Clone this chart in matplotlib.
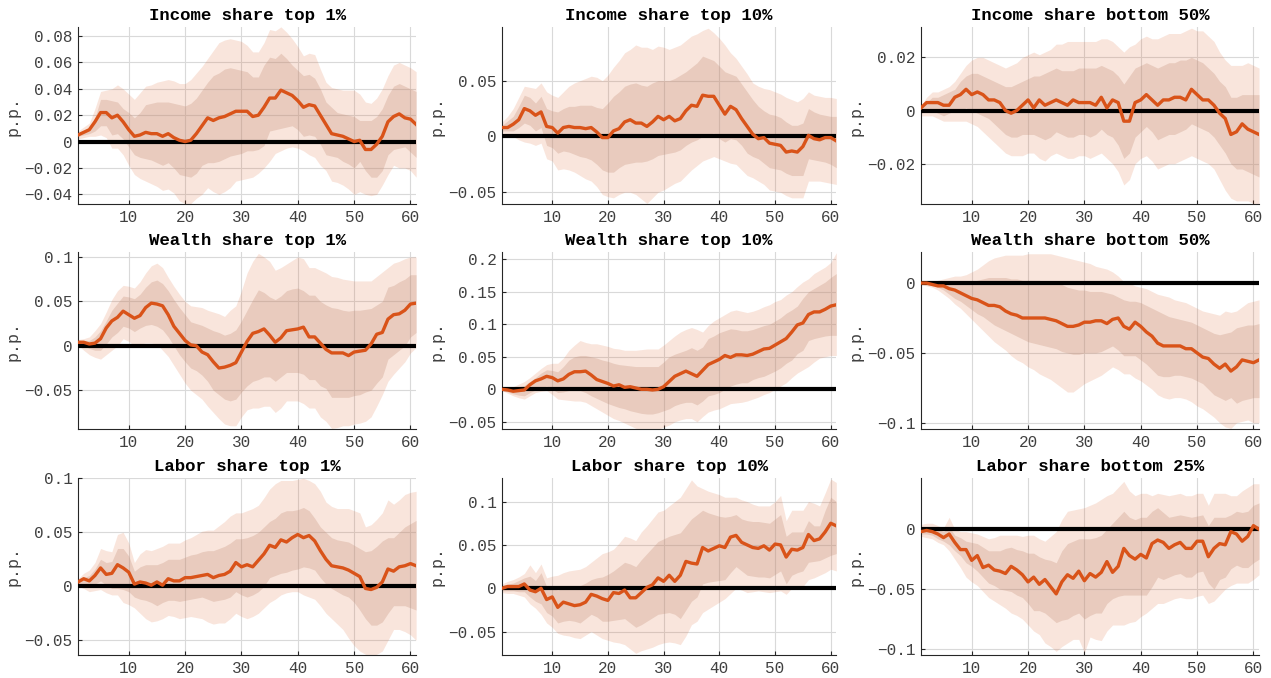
import numpy as np
import matplotlib
matplotlib.use("Agg")
import matplotlib.pyplot as plt
from matplotlib.ticker import MultipleLocator, FuncFormatter

# horizons
h = np.arange(1, 62)

# all values below in thousandths of a p.p.
# --- Income share top 1%
inc1_med = [5, 7, 9, 15, 22, 22, 18, 20, 15, 9,
            4, 5, 7, 6, 6, 4, 6, 3, 1, 0,
            1, 6, 12, 18, 16, 18, 19, 21, 23, 23,
            23, 19, 20, 26, 33, 33, 39, 37, 35, 31,
            26, 28, 27, 20, 13, 6, 5, 4, 2, 0,
            1, -6, -6, -2, 4, 15, 19, 21, 18, 17,
            13]
inc1_hi90 = [8, 11, 14, 25, 38, 39, 40, 43, 40, 36,
             32, 37, 42, 43, 45, 46, 47, 46, 44, 44,
             47, 52, 57, 63, 69, 75, 77, 78, 77, 76,
             73, 68, 68, 75, 85, 84, 87, 83, 78, 72,
             65, 67, 66, 55, 45, 41, 40, 39, 39, 39,
             36, 30, 29, 33, 40, 50, 58, 60, 58, 56,
             53]
inc1_hi68 = [6, 8, 10, 18, 32, 32, 31, 30, 25, 22,
             18, 22, 28, 29, 30, 30, 30, 29, 28, 27,
             29, 33, 39, 45, 50, 52, 55, 56, 55, 54,
             53, 49, 49, 58, 64, 63, 67, 63, 58, 54,
             50, 51, 48, 40, 30, 26, 22, 21, 20, 19,
             16, 16, 16, 19, 25, 35, 42, 44, 42, 40,
             38]
inc1_lo68 = [4, 5, 6, 8, 12, 12, 5, 6, 2, -4,
             -10, -12, -13, -14, -16, -18, -16, -20, -25, -26,
             -27, -24, -18, -16, -16, -15, -13, -11, -10, -9,
             -7, -7, -6, -3, 8, 9, 10, 11, 12, 9,
             4, 5, 4, -2, -10, -11, -12, -15, -17, -20,
             -15, -22, -27, -27, -22, -10, -6, -5, -4, -8,
             -12]
inc1_lo90 = [2, 3, 4, 4, 5, 3, -5, -5, -10, -18,
             -25, -28, -30, -32, -34, -37, -36, -39, -45, -47,
             -47, -43, -40, -35, -38, -40, -38, -35, -30, -29,
             -28, -27, -24, -20, -15, -9, -7, -5, -4, -5,
             -7, -10, -12, -18, -22, -30, -31, -33, -36, -40,
             -38, -40, -41, -40, -33, -25, -18, -20, -20, -22,
             -27]

# --- Income share top 10%
inc10_med = [8, 8, 11, 15, 25, 23, 19, 22, 9, 8,
             3, 8, 9, 8, 8, 7, 8, 4, -1, -1,
             5, 7, 13, 15, 12, 12, 9, 13, 18, 15,
             18, 14, 16, 23, 28, 27, 37, 36, 36, 28,
             20, 27, 24, 16, 9, 2, -2, -1, -6, -7,
             -8, -14, -13, -14, -9, 1, -2, -3, -1, -1,
             -4]
inc10_hi90 = [13, 18, 25, 35, 45, 44, 43, 48, 40, 37,
              35, 40, 45, 48, 50, 52, 54, 53, 50, 55,
              62, 68, 75, 78, 82, 80, 80, 78, 81, 80,
              78, 80, 82, 86, 90, 92, 95, 97, 93, 88,
              82, 75, 70, 63, 56, 48, 45, 43, 42, 40,
              38, 35, 33, 31, 34, 40, 37, 36, 35, 35,
              34]
inc10_hi68 = [10, 14, 18, 27, 37, 35, 30, 36, 25, 23,
              22, 25, 27, 27, 28, 28, 28, 26, 25, 30,
              36, 40, 45, 47, 48, 46, 45, 48, 50, 50,
              50, 52, 55, 58, 62, 66, 72, 70, 68, 63,
              58, 56, 54, 47, 40, 33, 27, 23, 20, 19,
              17, 13, 10, 10, 12, 25, 22, 20, 19, 18,
              18]
inc10_lo68 = [5, 5, 5, 8, 12, 10, 5, 8, -8, -10,
              -15, -13, -14, -16, -18, -19, -21, -25, -30, -32,
              -32, -28, -25, -24, -23, -23, -22, -20, -17, -16,
              -15, -14, -12, -8, -5, -3, 0, 2, 3, -2,
              -5, -2, -3, -8, -15, -18, -20, -24, -28, -29,
              -30, -33, -35, -35, -35, -20, -21, -22, -23, -25,
              -28]
inc10_lo90 = [3, 2, 0, -3, -5, -6, -8, -6, -20, -22,
              -30, -29, -30, -32, -35, -38, -40, -45, -52, -54,
              -55, -52, -50, -50, -52, -56, -60, -55, -50, -48,
              -45, -42, -40, -35, -30, -26, -22, -20, -18, -20,
              -22, -24, -25, -30, -35, -37, -40, -43, -48, -49,
              -50, -53, -55, -55, -55, -40, -40, -40, -41, -42,
              -43]

# --- Income share bottom 50%
incb50_med = [1, 3, 3, 3, 2, 2, 5, 6, 8, 6,
              7, 6, 4, 4, 3, 0, -1, 0, 2, 4,
              1, 4, 2, 3, 4, 3, 2, 4, 3, 3,
              3, 2, 5, 1, 4, 3, -4, -4, 3, 4,
              6, 4, 2, 4, 4, 5, 5, 4, 8, 6,
              4, 4, 2, -1, -3, -9, -8, -5, -7, -8,
              -9]
incb50_hi90 = [2, 5, 7, 7, 8, 9, 11, 14, 17, 19,
               20, 20, 19, 18, 17, 16, 17, 18, 20, 21,
               22, 21, 22, 23, 25, 25, 26, 26, 26, 26,
               26, 26, 27, 27, 26, 24, 22, 24, 25, 27,
               28, 27, 27, 28, 29, 29, 29, 30, 31, 30,
               30, 28, 26, 22, 19, 17, 17, 17, 18, 17,
               16]
incb50_hi68 = [1, 3, 5, 5, 6, 7, 8, 11, 13, 14,
               14, 13, 12, 11, 10, 9, 9, 10, 11, 12,
               13, 13, 14, 15, 16, 15, 15, 15, 16, 16,
               16, 16, 17, 16, 15, 13, 10, 13, 16, 17,
               18, 17, 16, 17, 18, 18, 19, 19, 20, 19,
               18, 16, 14, 11, 9, 5, 5, 6, 6, 6,
               6]
incb50_lo68 = [-1, 0, 0, -1, -2, -1, 0, 0, 1, 0,
               -1, -2, -3, -5, -7, -9, -10, -10, -9, -9,
               -9, -10, -11, -10, -8, -9, -10, -10, -9, -9,
               -10, -9, -7, -9, -10, -13, -18, -16, -10, -8,
               -6, -8, -11, -10, -9, -9, -8, -7, -5, -6,
               -7, -8, -10, -13, -16, -20, -22, -22, -23, -24,
               -25]
incb50_lo90 = [-2, -2, -2, -3, -4, -4, -4, -4, -4, -5,
               -6, -8, -10, -12, -14, -16, -17, -17, -17, -16,
               -16, -18, -19, -17, -16, -17, -18, -18, -17, -17,
               -18, -17, -16, -18, -20, -23, -28, -26, -20, -18,
               -17, -19, -22, -21, -20, -20, -19, -18, -17, -18,
               -19, -20, -22, -26, -30, -33, -34, -34, -34, -35,
               -35]

# --- Wealth share top 1%
wlt1_med = [4, 4, 2, 3, 8, 20, 28, 32, 39, 35,
            31, 34, 43, 48, 47, 45, 35, 22, 14, 6,
            1, 0, -7, -10, -18, -25, -24, -22, -19, -7,
            5, 14, 16, 19, 12, 4, 9, 17, 18, 19,
            21, 10, 10, 3, -4, -8, -8, -8, -11, -7,
            -6, -5, 2, 13, 15, 30, 35, 36, 40, 47,
            48]
wlt1_hi90 = [7, 8, 10, 17, 25, 38, 52, 62, 68, 67,
             65, 72, 82, 90, 93, 88, 77, 67, 58, 50,
             45, 44, 43, 40, 38, 36, 33, 40, 45, 62,
             82, 95, 104, 100, 95, 85, 88, 92, 96, 100,
             98, 88, 88, 85, 82, 78, 77, 75, 74, 73,
             73, 73, 73, 78, 83, 88, 93, 95, 98, 100,
             100]
wlt1_hi68 = [5, 5, 6, 10, 17, 28, 40, 48, 56, 55,
             53, 58, 66, 72, 74, 70, 62, 52, 43, 35,
             27, 25, 23, 20, 17, 15, 12, 14, 18, 28,
             40, 52, 63, 60, 55, 52, 56, 62, 64, 65,
             62, 57, 57, 50, 46, 43, 42, 40, 39, 40,
             40, 41, 42, 46, 50, 66, 68, 72, 75, 80,
             80]
wlt1_lo68 = [3, 0, -3, -5, -5, 2, 10, 15, 22, 20,
             16, 20, 23, 24, 22, 18, 10, 0, -10, -18,
             -25, -28, -33, -40, -50, -55, -60, -62, -60, -52,
             -45, -40, -38, -35, -35, -40, -35, -30, -30, -30,
             -32, -38, -38, -45, -48, -58, -58, -58, -58, -56,
             -55, -52, -50, -42, -35, -15, -10, -5, 0, 10,
             15]
wlt1_lo90 = [1, -5, -10, -13, -15, -10, -5, 0, 8, 5,
             0, 2, 3, 3, 2, -5, -12, -22, -32, -42,
             -50, -55, -60, -68, -75, -82, -88, -90, -90, -80,
             -72, -70, -70, -68, -68, -75, -70, -62, -62, -62,
             -65, -70, -70, -80, -85, -93, -92, -90, -90, -88,
             -87, -85, -80, -68, -55, -40, -32, -25, -18, -8,
             -2]

# --- Wealth share top 10%
wlt10_med = [0, -1, -3, -2, -1, 7, 13, 16, 20, 18,
             13, 16, 23, 27, 27, 28, 22, 15, 12, 9,
             5, 7, 3, 4, 2, 0, 0, -1, 0, 4,
             12, 20, 24, 28, 24, 20, 29, 38, 42, 46,
             52, 49, 53, 53, 52, 54, 58, 62, 63, 68,
             73, 78, 88, 99, 102, 115, 119, 119, 123, 128,
             130]
wlt10_hi90 = [1, 2, 4, 8, 12, 18, 25, 32, 38, 40,
              40, 48, 60, 68, 75, 72, 70, 70, 68, 66,
              63, 62, 60, 60, 60, 61, 62, 62, 62, 68,
              75, 82, 88, 92, 95, 92, 88, 98, 105, 110,
              115, 120, 122, 120, 118, 120, 123, 127, 130, 135,
              138, 145, 150, 158, 165, 170, 178, 183, 188, 195,
              210]
wlt10_hi68 = [1, 1, 2, 4, 6, 12, 18, 25, 30, 29,
              27, 35, 45, 50, 52, 52, 50, 48, 45, 43,
              40, 38, 37, 36, 35, 35, 35, 35, 35, 42,
              50, 54, 57, 60, 64, 60, 65, 78, 82, 87,
              90, 93, 92, 90, 90, 92, 95, 98, 100, 105,
              110, 117, 122, 128, 140, 150, 155, 160, 165, 172,
              178]
wlt10_lo68 = [-1, -4, -7, -9, -10, -5, -1, 2, 5, 0,
              -5, -4, -2, -2, -2, -5, -10, -14, -18, -22,
              -25, -28, -30, -33, -35, -37, -38, -38, -36, -33,
              -30, -25, -22, -20, -20, -24, -18, -10, -8, -5,
              0, 5, 8, 10, 10, 15, 18, 20, 24, 28,
              33, 40, 45, 55, 60, 75, 78, 80, 82, 83,
              83]
wlt10_lo90 = [-2, -6, -10, -13, -15, -10, -5, -3, -2, -8,
              -15, -16, -17, -18, -18, -20, -25, -30, -35, -40,
              -45, -48, -52, -56, -60, -62, -64, -64, -62, -58,
              -55, -50, -47, -45, -45, -50, -42, -35, -32, -30,
              -26, -22, -21, -20, -18, -15, -12, -8, -5, 0,
              5, 10, 18, 25, 30, 35, 42, 48, 50, 52,
              52]

# --- Wealth share bottom 50%
wltb50_med = [0, 0, -1, -2, -2, -4, -5, -7, -9, -11,
              -12, -14, -16, -16, -17, -20, -22, -23, -25, -25,
              -25, -25, -25, -26, -27, -29, -31, -31, -30, -28,
              -28, -27, -27, -29, -26, -25, -31, -33, -28, -31,
              -35, -38, -43, -45, -45, -45, -45, -47, -47, -50,
              -53, -54, -58, -61, -58, -63, -60, -55, -56, -57,
              -55]
wltb50_hi90 = [1, 1, 1, 2, 3, 4, 5, 5, 6, 8,
               10, 13, 16, 18, 19, 20, 20, 20, 20, 21,
               21, 21, 21, 21, 20, 19, 18, 17, 16, 15,
               14, 12, 11, 10, 8, 5, 1, 0, -2, -3,
               -4, -6, -8, -9, -10, -12, -13, -14, -16, -18,
               -20, -21, -22, -23, -20, -21, -20, -17, -14, -13,
               -12]
wltb50_hi68 = [0, 0, 0, 1, 1, 1, 1, 0, 0, 1,
               2, 3, 4, 4, 4, 4, 3, 3, 2, 2,
               2, 2, 1, 1, 0, -1, -3, -4, -5, -5,
               -6, -6, -6, -7, -8, -10, -12, -13, -13, -14,
               -16, -18, -20, -22, -24, -25, -26, -27, -28, -30,
               -32, -34, -36, -37, -36, -35, -32, -31, -30, -30,
               -29]
wltb50_lo68 = [0, -1, -2, -3, -5, -8, -11, -13, -16, -19,
               -22, -24, -27, -30, -32, -34, -36, -38, -40, -42,
               -43, -44, -45, -46, -47, -49, -50, -51, -51, -50,
               -50, -50, -49, -47, -45, -48, -52, -52, -52, -55,
               -58, -62, -66, -67, -67, -66, -66, -67, -68, -70,
               -72, -76, -80, -82, -84, -82, -86, -84, -83, -82,
               -82]
wltb50_lo90 = [-1, -2, -3, -5, -8, -11, -15, -18, -22, -26,
               -30, -34, -38, -42, -45, -48, -52, -55, -57, -60,
               -62, -65, -67, -69, -72, -75, -78, -78, -75, -72,
               -70, -68, -66, -63, -60, -62, -65, -65, -68, -70,
               -73, -76, -80, -82, -83, -82, -82, -83, -85, -88,
               -90, -93, -96, -100, -103, -104, -100, -99, -98, -100,
               -100]

# --- Labor share top 1%
lab1_med = [4, 7, 5, 10, 17, 11, 12, 20, 17, 13,
            2, 4, 3, 1, 4, 1, 7, 5, 5, 8,
            8, 9, 10, 11, 8, 10, 11, 14, 22, 18,
            20, 18, 24, 30, 38, 36, 43, 41, 45, 48,
            45, 47, 42, 33, 25, 19, 18, 17, 15, 12,
            9, -2, -3, -1, 4, 16, 14, 18, 19, 21,
            19]
lab1_hi90 = [7, 12, 15, 22, 35, 33, 32, 48, 50, 40,
             22, 30, 34, 33, 35, 37, 40, 40, 40, 43,
             45, 48, 51, 52, 52, 56, 60, 65, 68, 68,
             70, 72, 75, 82, 90, 95, 98, 98, 98, 99,
             100, 98, 95, 88, 78, 74, 72, 72, 72, 70,
             68, 55, 57, 62, 68, 80, 76, 80, 85, 87,
             88]
lab1_hi68 = [5, 8, 10, 16, 25, 22, 23, 35, 35, 28,
             14, 18, 20, 20, 20, 22, 25, 25, 25, 27,
             29, 30, 32, 33, 33, 35, 37, 40, 44, 44,
             45, 47, 50, 55, 60, 63, 68, 70, 70, 71,
             73, 70, 63, 55, 50, 45, 43, 42, 41, 38,
             35, 32, 33, 37, 42, 45, 45, 50, 55, 58,
             61]
lab1_lo68 = [2, 1, 0, 2, 5, 1, -2, -2, -3, -5,
             -10, -12, -13, -15, -18, -15, -13, -13, -14, -13,
             -12, -11, -10, -12, -14, -13, -12, -10, -5, -8,
             -10, -8, -5, 0, 8, 10, 12, 13, 15, 16,
             18, 17, 15, 8, 2, -2, -5, -8, -10, -15,
             -22, -30, -36, -36, -33, -25, -18, -18, -18, -20,
             -22]
lab1_lo90 = [0, -2, -5, -4, -3, -6, -8, -8, -15, -17,
             -20, -25, -30, -33, -32, -30, -27, -28, -30, -29,
             -28, -29, -30, -33, -35, -34, -34, -30, -25, -28,
             -30, -28, -25, -20, -15, -12, -8, -6, -5, -5,
             -8, -10, -12, -18, -25, -30, -35, -40, -48, -55,
             -60, -63, -65, -63, -60, -50, -40, -40, -42, -45,
             -50]

# --- Labor share top 10%
lab10_med = [0, 2, 2, 2, 5, -2, -4, 0, -13, -10,
             -22, -16, -18, -20, -19, -16, -7, -9, -12, -14,
             -5, -6, -2, -11, -11, -5, 1, 4, 12, 8,
             15, 8, 15, 31, 29, 28, 47, 43, 46, 49,
             47, 59, 61, 53, 50, 47, 46, 49, 44, 51,
             50, 36, 45, 44, 47, 62, 55, 57, 65, 75,
             72]
lab10_hi90 = [5, 8, 10, 13, 17, 27, 18, 28, 12, 14,
              15, 18, 20, 21, 22, 25, 30, 35, 40, 42,
              45, 52, 60, 58, 55, 65, 72, 80, 88, 90,
              95, 100, 105, 115, 125, 118, 115, 112, 110, 108,
              105, 105, 105, 102, 100, 97, 95, 95, 95, 100,
              107, 78, 90, 90, 90, 100, 98, 95, 110, 126,
              122]
lab10_hi68 = [3, 5, 6, 9, 12, 14, 9, 18, 2, 0,
              -2, 0, 2, 3, 3, 6, 10, 12, 13, 16,
              20, 25, 30, 28, 25, 33, 40, 47, 54, 57,
              60, 62, 64, 72, 80, 85, 90, 87, 85, 83,
              82, 83, 85, 80, 78, 77, 77, 76, 75, 80,
              85, 60, 65, 65, 65, 78, 72, 72, 90, 105,
              100]
lab10_lo68 = [-3, -3, -3, -4, -4, -10, -15, -18, -28, -32,
              -40, -38, -37, -38, -40, -35, -30, -33, -38, -38,
              -37, -36, -35, -40, -45, -42, -38, -34, -30, -29,
              -28, -30, -35, -25, -15, -10, 5, 7, 8, 9,
              10, 18, 25, 20, 15, 14, 13, 13, 12, 16,
              20, 5, 15, 18, 20, 30, 31, 32, 35, 38,
              40]
lab10_lo90 = [-5, -6, -6, -8, -10, -18, -23, -30, -40, -45,
              -52, -54, -55, -57, -58, -54, -50, -54, -58, -60,
              -62, -63, -65, -70, -75, -72, -70, -68, -65, -63,
              -62, -63, -65, -55, -42, -38, -28, -24, -20, -16,
              -12, -6, 0, -2, -5, -4, -3, -4, -5, -4,
              -3, -7, 0, 1, 2, 10, 12, 15, 18, 22,
              20]

# --- Labor share bottom 25%
labb25_med = [-2, -1, -2, -4, -7, -4, -11, -17, -17, -26,
              -22, -32, -30, -34, -35, -37, -31, -34, -38, -44,
              -40, -46, -42, -48, -54, -44, -38, -41, -35, -43,
              -37, -40, -36, -27, -36, -31, -16, -22, -25, -21,
              -24, -12, -9, -11, -16, -13, -11, -16, -16, -10,
              -10, -23, -16, -12, -13, -2, -4, -10, -6, 3,
              0]
labb25_hi90 = [4, 5, 5, 3, 1, 10, 0, -2, -2, -3,
               -4, -6, -8, -7, -5, -5, -5, -5, -6, -5,
               -5, -8, -10, -6, -2, 8, 15, 16, 17, 18,
               20, 22, 25, 28, 30, 35, 40, 32, 28, 30,
               30, 28, 30, 29, 28, 29, 30, 28, 28, 30,
               30, 20, 30, 30, 30, 28, 28, 32, 35, 38,
               38]
labb25_hi68 = [1, 2, 2, 0, -2, 2, -5, -7, -10, -11,
               -12, -15, -18, -18, -18, -16, -15, -17, -18, -20,
               -20, -23, -25, -26, -28, -18, -12, -10, -8, -8,
               -8, -7, -5, 0, 5, 10, 15, 10, 8, 10,
               10, 15, 18, 14, 10, 11, 12, 11, 10, 11,
               12, 3, 10, 10, 10, 12, 15, 14, 15, 20,
               22]
labb25_lo68 = [-4, -4, -5, -8, -10, -13, -18, -22, -28, -31,
               -35, -40, -45, -47, -50, -51, -52, -55, -57, -62,
               -68, -68, -70, -74, -78, -76, -75, -72, -70, -75,
               -72, -70, -70, -62, -58, -56, -55, -55, -55, -55,
               -55, -48, -40, -42, -40, -38, -37, -40, -40, -36,
               -35, -45, -50, -42, -40, -33, -30, -32, -32, -28,
               -25]
labb25_lo90 = [-6, -7, -8, -11, -13, -18, -25, -32, -40, -44,
               -47, -52, -57, -60, -63, -66, -70, -72, -75, -80,
               -85, -88, -95, -98, -102, -98, -95, -92, -92, -103,
               -90, -92, -93, -85, -80, -80, -80, -78, -77, -73,
               -70, -66, -62, -62, -60, -58, -57, -58, -58, -56,
               -55, -62, -60, -55, -50, -47, -45, -45, -45, -42,
               -38]

titles = ["Income share top 1%", "Income share top 10%", "Income share bottom 50%",
          "Wealth share top 1%", "Wealth share top 10%", "Wealth share bottom 50%",
          "Labor share top 1%", "Labor share top 10%", "Labor share bottom 25%"]

series = [
    (inc1_med, inc1_lo90, inc1_lo68, inc1_hi68, inc1_hi90),
    (inc10_med, inc10_lo90, inc10_lo68, inc10_hi68, inc10_hi90),
    (incb50_med, incb50_lo90, incb50_lo68, incb50_hi68, incb50_hi90),
    (wlt1_med, wlt1_lo90, wlt1_lo68, wlt1_hi68, wlt1_hi90),
    (wlt10_med, wlt10_lo90, wlt10_lo68, wlt10_hi68, wlt10_hi90),
    (wltb50_med, wltb50_lo90, wltb50_lo68, wltb50_hi68, wltb50_hi90),
    (lab1_med, lab1_lo90, lab1_lo68, lab1_hi68, lab1_hi90),
    (lab10_med, lab10_lo90, lab10_lo68, lab10_hi68, lab10_hi90),
    (labb25_med, labb25_lo90, labb25_lo68, labb25_hi68, labb25_hi90),
]

# y limits and tick step per panel (MATLAB tight limits)
ylims = [(-0.0474, 0.0868), (-0.0606, 0.098), (-0.0352, 0.0314),
         (-0.0938, 0.1053), (-0.0613, 0.2108), (-0.1046, 0.0221),
         (-0.0636, 0.1003), (-0.0769, 0.1272), (-0.105, 0.0428)]
ysteps = [0.02, 0.05, 0.02, 0.05, 0.05, 0.05, 0.05, 0.05, 0.05]

orange = "#D95319"
inner = "#C4917A"
axcol = "#262626"
mono = "Liberation Mono"


def fmt(v, pos):
    if abs(v) < 1e-12:
        return "0"
    s = "%g" % round(v, 4)
    return s.replace("-", "\u2212")


fig = plt.figure(figsize=(12.71, 6.78), dpi=100)

lefts = [0.0614, 0.395, 0.7246]
widths = [0.266, 0.263, 0.266]
bottoms = [0.699, 0.367, 0.034]
height = 0.261

for i in range(9):
    r, c = divmod(i, 3)
    ax = fig.add_axes([lefts[c], bottoms[r], widths[c], height])
    med, lo90, lo68, hi68, hi90 = [np.array(a) / 1000.0 for a in series[i]]

    ax.fill_between(h, lo90, hi90, color=orange, alpha=0.15, lw=0, zorder=2)
    ax.fill_between(h, lo68, hi68, color=inner, alpha=0.3, lw=0, zorder=2)
    ax.axhline(0, color="black", lw=3, zorder=3)
    ax.plot(h, med, color=orange, lw=2.4, zorder=4)

    ax.set_xlim(1, 61)
    ax.set_ylim(*ylims[i])
    ax.xaxis.set_major_locator(MultipleLocator(10))
    ax.yaxis.set_major_locator(MultipleLocator(ysteps[i]))
    ax.yaxis.set_major_formatter(FuncFormatter(fmt))

    ax.grid(True, color="#d9d9d9", lw=0.8, zorder=1)
    ax.set_axisbelow(True)
    for side in ["top", "right"]:
        ax.spines[side].set_visible(False)
    for side in ["left", "bottom"]:
        ax.spines[side].set_color(axcol)
        ax.spines[side].set_linewidth(0.8)
    ax.tick_params(direction="in", length=3, width=0.8, color=axcol,
                   labelcolor="#404040", labelsize=11.5, pad=4)
    for lab in ax.get_xticklabels() + ax.get_yticklabels():
        lab.set_family(mono)

    ax.set_title(titles[i], fontfamily=mono, fontweight="bold",
                 fontsize=12.5, pad=5)
    ax.set_ylabel("p.p.", fontfamily=mono, fontsize=12, color="#404040",
                  labelpad=3)

fig.savefig("out.png", dpi=100)
